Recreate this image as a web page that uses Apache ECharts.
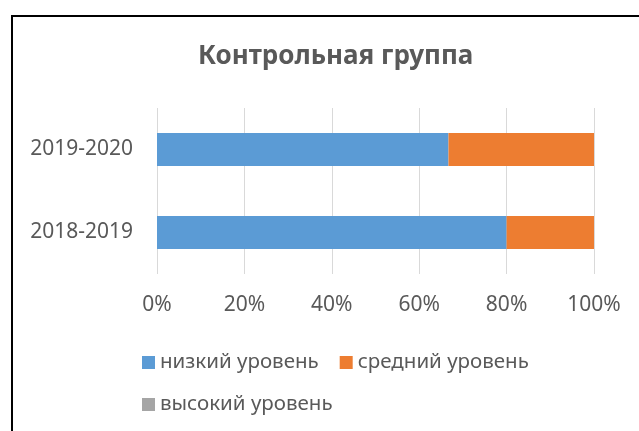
<!DOCTYPE html>
<html>
<head>
<meta charset="utf-8">
<script src="https://cdn.jsdelivr.net/npm/echarts@6/dist/echarts.min.js"></script>
<style>
  html, body { margin: 0; padding: 0; background: #fff; }
  #chart { width: 639px; height: 431px; }
</style>
</head>
<body>
<div id="chart"></div>
<script>
// данные
var years = ["2018-2019", "2019-2020"];
var lowLevel = [80, 66.7];
var midLevel = [20, 33.3];
var highLevel = [0, 0];
var ticks = [0, 20, 40, 60, 80, 100];

var font = "Noto Sans";
var textColor = "#595959";

var mychart = echarts.init(document.getElementById("chart"));
var option = {
  animation: false,
  title: {
    text: "Контрольная группа",
    left: 193,
    top: 39,
    textStyle: { fontFamily: font, fontSize: 26, fontWeight: "bold", color: textColor }
  },
  // рамка
  graphic: [{
    type: "rect",
    shape: { x: 12, y: 16, width: 700, height: 500 },
    style: { fill: "none", stroke: "#000", lineWidth: 2 },
    silent: true
  }],
  grid: { left: 157, right: 45, top: 108, bottom: 157 },
  xAxis: {
    type: "value",
    min: ticks[0],
    max: ticks[ticks.length - 1],
    interval: 20,
    axisLine: { show: false },
    axisTick: { show: false },
    axisLabel: {
      formatter: "{value}%",
      fontFamily: font, fontSize: 21, color: textColor, margin: 21
    },
    splitLine: { lineStyle: { color: "#d9d9d9", width: 1 } }
  },
  yAxis: {
    type: "category",
    data: years,
    axisLine: { show: false },
    axisTick: { show: false },
    axisLabel: { fontFamily: font, fontSize: 21, color: textColor, margin: 24 }
  },
  legend: {
    left: 137,
    top: 347,
    width: 460,
    itemWidth: 13,
    itemHeight: 13,
    itemGap: 21,
    icon: "rect",
    textStyle: { fontFamily: font, fontSize: 20.5, color: textColor }
  },
  series: [
    { name: "низкий уровень", type: "bar", stack: "all", barWidth: 33, data: lowLevel, itemStyle: { color: "#5b9bd5" } },
    { name: "средний уровень", type: "bar", stack: "all", barWidth: 33, data: midLevel, itemStyle: { color: "#ed7d31" } },
    { name: "высокий уровень", type: "bar", stack: "all", barWidth: 33, data: highLevel, itemStyle: { color: "#a5a5a5" } }
  ]
};
mychart.setOption(option);
</script>
</body>
</html>
